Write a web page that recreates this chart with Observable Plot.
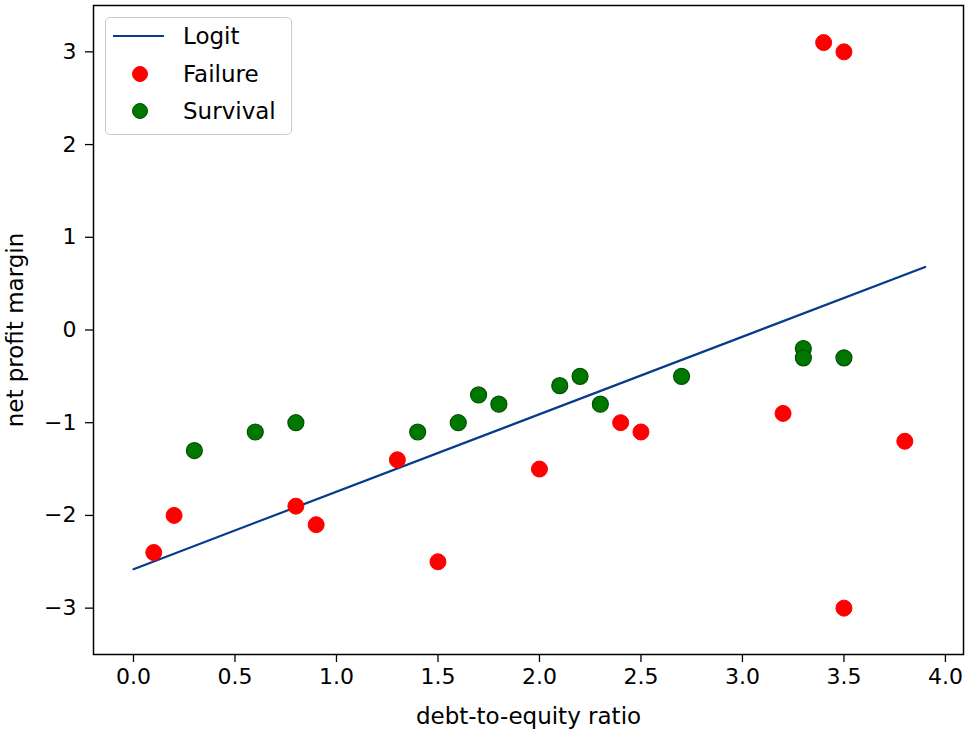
<!DOCTYPE html>
<html>
<head>
<meta charset="utf-8">
<script src="https://cdn.jsdelivr.net/npm/d3@7"></script>
<script src="https://cdn.jsdelivr.net/npm/@observablehq/plot@0.6"></script>
<style>
  html, body { margin: 0; padding: 0; background: #fff; }
  #wrap { position: relative; width: 971px; height: 732px; font-family: "DejaVu Sans", sans-serif; }
  #legend {
    position: absolute; left: 105px; top: 17px; width: 187px; height: 118px;
    border: 1.5px solid #cccccc; border-radius: 5px; background: rgba(255,255,255,0.8);
    box-sizing: border-box; font-size: 23px; color: #000;
  }
  .sw { position: absolute; box-sizing: border-box; }
  .lab { position: absolute; line-height: 30px; height: 30px; white-space: nowrap; }
</style>
</head>
<body>
<div id="wrap">
  <div id="chart"></div>
  <div id="legend"></div>
</div>
<script>
// Failure points
const failX = [0.1, 0.2, 0.8, 0.9, 1.3, 1.5, 2.0, 2.4, 2.5, 3.2, 3.4, 3.5, 3.5, 3.8];
const failY = [-2.4, -2.0, -1.9, -2.1, -1.4, -2.5, -1.5, -1.0, -1.1, -0.9, 3.1, 3.0, -3.0, -1.2];
// Survival points
const survX = [0.3, 0.6, 0.8, 1.4, 1.6, 1.7, 1.8, 2.1, 2.2, 2.3, 2.7, 3.3, 3.3, 3.5];
const survY = [-1.3, -1.1, -1.0, -1.1, -1.0, -0.7, -0.8, -0.6, -0.5, -0.8, -0.5, -0.2, -0.3, -0.3];
// Logit fitted line (endpoints)
const logitX = [0.0, 3.9];
const logitY = [-2.58, 0.68];
// Ticks
const xTicks = [0.0, 0.5, 1.0, 1.5, 2.0, 2.5, 3.0, 3.5, 4.0];
const yTicks = [-3, -2, -1, 0, 1, 2, 3];
const legendLabels = ["Logit", "Failure", "Survival"];

const colors = { line: "#063a8c", fail: "#ff0000", surv: "#007800", survEdge: "#005000" };

const fail = failX.map((x, i) => ({ x, y: failY[i] }));
const surv = survX.map((x, i) => ({ x, y: survY[i] }));
const logit = logitX.map((x, i) => ({ x, y: logitY[i] }));

const chart = Plot.plot({
  width: 971,
  height: 732,
  marginLeft: 93,
  marginRight: 8,
  marginTop: 5,
  marginBottom: 78,
  style: { fontFamily: "DejaVu Sans, sans-serif", fontSize: "22px", color: "#000", background: "#fff" },
  x: { domain: [-0.197, 4.089] },
  y: { domain: [-3.5, 3.5] },
  marks: [
    Plot.axisX({ ticks: xTicks, tickFormat: d3.format(".1f"), tickSize: 8, tickPadding: 6, label: null, fontSize: 22, strokeWidth: 1.3 }),
    Plot.axisY({ ticks: yTicks, tickFormat: d => d < 0 ? "\u2212" + Math.abs(d) : String(d), tickSize: 8, tickPadding: 9, label: null, fontSize: 22, strokeWidth: 1.3 }),
    Plot.line(logit, { x: "x", y: "y", stroke: colors.line, strokeWidth: 2.2 }),
    Plot.dot(fail, { x: "x", y: "y", r: 8, fill: colors.fail, stroke: colors.fail, strokeWidth: 1 }),
    Plot.dot(surv, { x: "x", y: "y", r: 8, fill: colors.surv, stroke: colors.survEdge, strokeWidth: 1.2 }),
    Plot.frame({ stroke: "#000", strokeWidth: 1.5 }),
    Plot.text(["debt-to-equity ratio"], { frameAnchor: "bottom", lineAnchor: "middle", dy: 62, fontSize: 23, fill: "#000" }),
    Plot.text(["net profit margin"], { frameAnchor: "left", textAnchor: "middle", lineAnchor: "middle", dx: -78, rotate: -90, fontSize: 23, fill: "#000" })
  ]
});
document.getElementById("chart").appendChild(chart);

// Legend
const legend = document.getElementById("legend");
const rowsY = [18, 56, 93];
const items = [
  { type: "line", color: colors.line },
  { type: "dot", color: colors.fail, edge: colors.fail },
  { type: "dot", color: colors.surv, edge: colors.survEdge }
];
items.forEach((it, i) => {
  const cy = rowsY[i];
  const sw = document.createElement("div");
  sw.className = "sw";
  if (it.type === "line") {
    Object.assign(sw.style, { left: "7px", top: (cy - 1) + "px", width: "51px", height: "2.2px", background: it.color });
  } else {
    Object.assign(sw.style, { left: "26px", top: (cy - 8) + "px", width: "16px", height: "16px", borderRadius: "50%", background: it.color, border: "1px solid " + it.edge });
  }
  legend.appendChild(sw);
  const lab = document.createElement("div");
  lab.className = "lab";
  lab.style.left = "77px";
  lab.style.top = (cy - 15) + "px";
  lab.textContent = legendLabels[i];
  legend.appendChild(lab);
});
</script>
</body>
</html>
